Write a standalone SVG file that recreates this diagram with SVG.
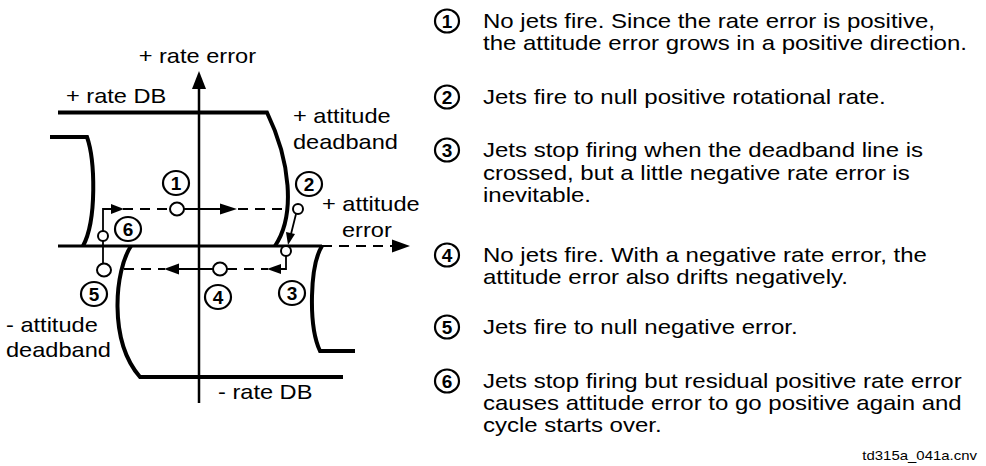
<svg xmlns="http://www.w3.org/2000/svg" width="986" height="466" viewBox="0 0 986 466">
<style>
.t{font-family:"Liberation Sans",Arial,sans-serif;font-size:20px;fill:#000}
.d{font-family:"Liberation Sans",Arial,sans-serif;font-size:19px;font-weight:bold;fill:#000;text-anchor:middle}
.cl{fill:#fff;stroke:#000;stroke-width:2.2}
.pt{fill:#fff;stroke:#000;stroke-width:2}
.thick{fill:none;stroke:#000;stroke-width:4}
.ax{fill:none;stroke:#000;stroke-width:2.5}
.ln{fill:none;stroke:#000;stroke-width:1.8}
.dash{fill:none;stroke:#000;stroke-width:1.8;stroke-dasharray:10 7}
</style>
<rect width="986" height="466" fill="#fff"/>
<g id="boundaries">
<path class="thick" d="M58,112.5 H267 C290,160 296,215 275,246"/>
<path class="thick" d="M50,137 H87 C95,160 97,220 83,246"/>
<path class="thick" d="M322,246 C310,265 308,325 320,351 H355"/>
<path class="thick" d="M131,246 C115,270 108,340 140,377 H343"/>
</g>
<g id="axes">
<line class="ax" x1="199" y1="86" x2="199" y2="403"/>
<polygon points="199,71 192,89 206,89"/>
<line x1="58" y1="246" x2="322" y2="246" stroke="#000" stroke-width="3.2"/>
<line class="dash" x1="322" y1="246" x2="394" y2="246" stroke-width="2.4"/>
<polygon points="410,246 392,239.5 392,252.5"/>
</g>
<g id="connectors">
<line class="dash" x1="123" y1="209" x2="170" y2="209"/>
<line class="dash" x1="238" y1="209" x2="288" y2="209"/>
<line class="ln" x1="184" y1="209" x2="221" y2="209"/>
<polygon points="237,209 220,203.5 220,214.5"/>
<polyline class="ln" points="103,231 103,209 113,209"/>
<polygon points="124,209 111,204 111,214"/>
<line class="ln" x1="103" y1="241" x2="103" y2="263"/>
<line class="dash" x1="124" y1="269" x2="165" y2="269"/>
<polygon points="164,269 179,263.5 179,274.5"/>
<line class="ln" x1="178" y1="269" x2="213" y2="269"/>
<line class="dash" x1="227" y1="269" x2="268" y2="269"/>
<polygon points="267,269 281,264 281,274"/>
<polyline class="ln" points="280,269 286,269 286,256"/>
<line class="ln" x1="296" y1="214" x2="291" y2="234"/>
<polygon points="288,245 286,232 295,234"/>
</g>
<g id="points">
<ellipse class="pt" cx="177" cy="209" rx="7" ry="6.5"/>
<ellipse class="pt" cx="298" cy="209" rx="5" ry="5"/>
<ellipse class="pt" cx="286" cy="251" rx="5" ry="5"/>
<ellipse class="pt" cx="220" cy="269" rx="7" ry="6.5"/>
<ellipse class="pt" cx="104" cy="270" rx="7" ry="6.5"/>
<ellipse class="pt" cx="103" cy="236" rx="5" ry="5"/>
</g>
<g id="labels-left">
<text class="t" transform="translate(256,63) scale(1.18,1)" text-anchor="end">+ rate error</text>
<text class="t" transform="translate(66,103) scale(1.18,1)">+ rate DB</text>
<text class="t" transform="translate(293,123) scale(1.18,1)">+ attitude</text>
<text class="t" transform="translate(293,149) scale(1.18,1)">deadband</text>
<text class="t" transform="translate(322,211) scale(1.18,1)">+ attitude</text>
<text class="t" transform="translate(342,237) scale(1.18,1)">error</text>
<text class="t" transform="translate(6,332) scale(1.18,1)">- attitude</text>
<text class="t" transform="translate(6,357) scale(1.18,1)">deadband</text>
<text class="t" transform="translate(218,399) scale(1.18,1)">- rate DB</text>
</g>
<g id="markers-left">
<g id="m1"><ellipse class="cl" cx="176" cy="183" rx="13" ry="12"/><text class="d" x="176" y="190">1</text></g>
<g id="m2"><ellipse class="cl" cx="309" cy="184" rx="13" ry="12"/><text class="d" x="309" y="191">2</text></g>
<g id="m3"><ellipse class="cl" cx="292" cy="293" rx="13" ry="12"/><text class="d" x="292" y="300">3</text></g>
<g id="m4"><ellipse class="cl" cx="218" cy="297" rx="13" ry="12"/><text class="d" x="218" y="304">4</text></g>
<g id="m5"><ellipse class="cl" cx="94" cy="294" rx="13" ry="12"/><text class="d" x="94" y="301">5</text></g>
<g id="m6"><ellipse class="cl" cx="128" cy="229" rx="13" ry="12"/><text class="d" x="128" y="236">6</text></g>
</g>
<g id="legend">
<g id="l1"><ellipse class="cl" cx="447" cy="21" rx="12" ry="11.5"/><text class="d" x="447" y="28">1</text>
<text class="t" transform="translate(483,28) scale(1.2,1)">No jets fire. Since the rate error is positive,</text>
<text class="t" transform="translate(483,50) scale(1.2,1)">the attitude error grows in a positive direction.</text></g>
<g id="l2"><ellipse class="cl" cx="447" cy="97" rx="12" ry="11.5"/><text class="d" x="447" y="104">2</text>
<text class="t" transform="translate(483,104) scale(1.2,1)">Jets fire to null positive rotational rate.</text></g>
<g id="l3"><ellipse class="cl" cx="447" cy="150" rx="12" ry="11.5"/><text class="d" x="447" y="157">3</text>
<text class="t" transform="translate(483,157) scale(1.2,1)">Jets stop firing when the deadband line is</text>
<text class="t" transform="translate(483,180) scale(1.2,1)">crossed, but a little negative rate error is</text>
<text class="t" transform="translate(483,202) scale(1.2,1)">inevitable.</text></g>
<g id="l4"><ellipse class="cl" cx="447" cy="255" rx="12" ry="11.5"/><text class="d" x="447" y="262">4</text>
<text class="t" transform="translate(483,262) scale(1.2,1)">No jets fire. With a negative rate error, the</text>
<text class="t" transform="translate(483,284) scale(1.2,1)">attitude error also drifts negatively.</text></g>
<g id="l5"><ellipse class="cl" cx="447" cy="327" rx="12" ry="11.5"/><text class="d" x="447" y="334">5</text>
<text class="t" transform="translate(483,334) scale(1.2,1)">Jets fire to null negative error.</text></g>
<g id="l6"><ellipse class="cl" cx="447" cy="381" rx="12" ry="11.5"/><text class="d" x="447" y="388">6</text>
<text class="t" transform="translate(483,388) scale(1.2,1)">Jets stop firing but residual positive rate error</text>
<text class="t" transform="translate(483,410) scale(1.2,1)">causes attitude error to go positive again and</text>
<text class="t" transform="translate(483,432) scale(1.2,1)">cycle starts over.</text></g>
</g>
<text class="t" transform="translate(977,460) scale(1.15,1)" style="font-size:13px" text-anchor="end">td315a_041a.cnv</text>
</svg>
